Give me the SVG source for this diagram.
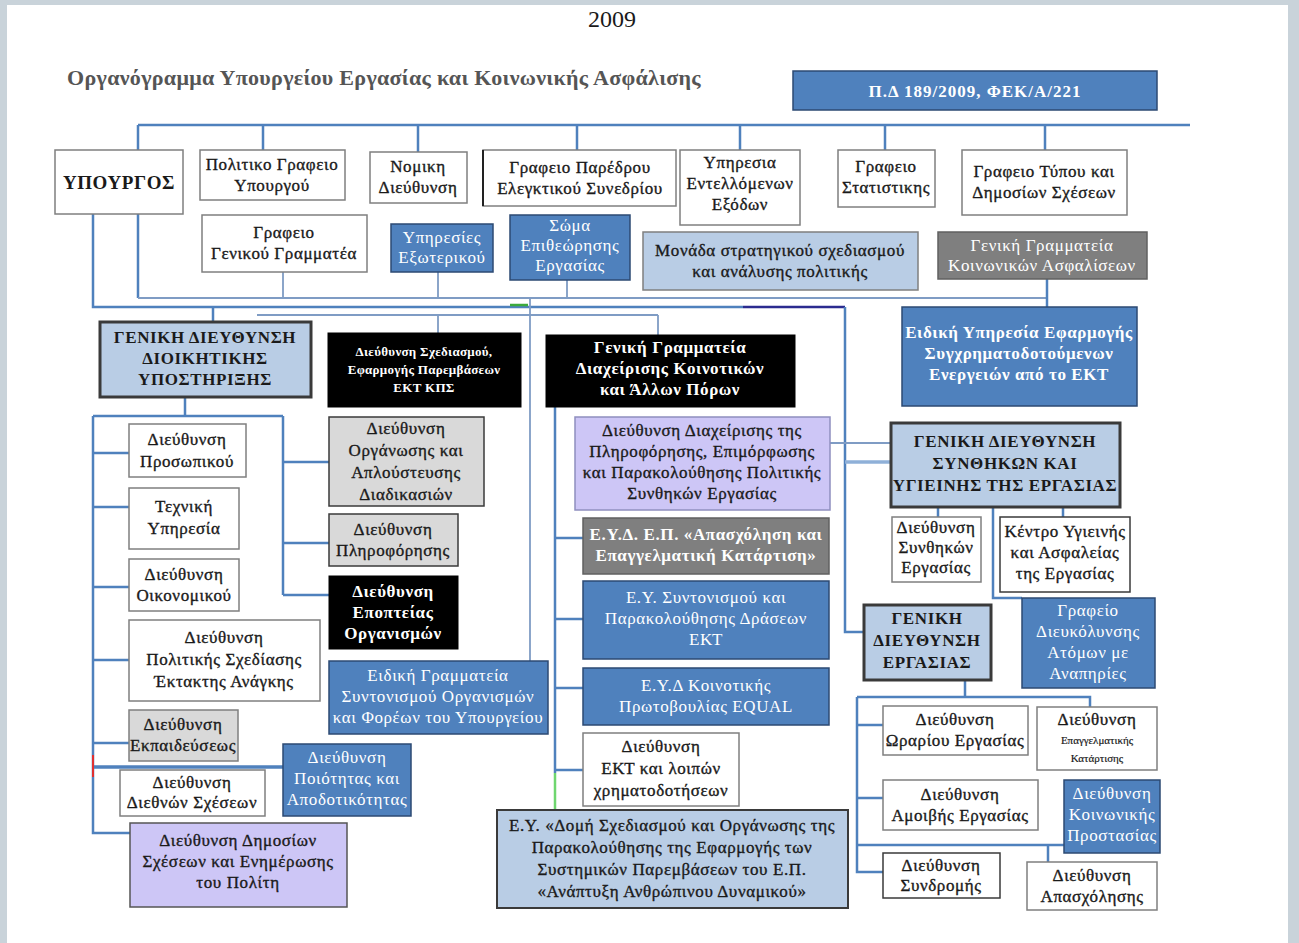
<svg xmlns="http://www.w3.org/2000/svg" width="1299" height="943" viewBox="0 0 1299 943">
<style>
text{font-family:"Liberation Serif","DejaVu Serif",serif;font-size:17px;letter-spacing:0.6px;fill:#1a1a1a;stroke:#1a1a1a;stroke-width:0.35px;text-anchor:middle}
.w{fill:#fff;stroke:#7f7f7f;stroke-width:1.5}
.b{fill:#4f81bd;stroke:#2c4a73;stroke-width:1.5}
.lb{fill:#b9cde5;stroke:#7f7f7f;stroke-width:1.5}
.gd{fill:#b9cde5;stroke:#3a3a3a;stroke-width:3}
.g{fill:#7f7f7f;stroke:#606060;stroke-width:1.5}
.k{fill:#000;stroke:#000;stroke-width:1}
.lg{fill:#d9d9d9;stroke:#3a3a3a;stroke-width:1.5}
.lv{fill:#cdc6f6;stroke:#8f8fbf;stroke-width:1.5}
text.wt{fill:#fff;stroke:none;font-weight:bold}
text.wn{fill:#fff;stroke:none}
.bd{font-weight:bold;stroke:none}
.c{fill:none;stroke:#4f81bd;stroke-width:2.5}
.ct{fill:none;stroke:#7f9cc4;stroke-width:1.8}
</style>
<rect x="0" y="0" width="1299" height="943" fill="#fff"/>
<rect x="0" y="0" width="1299" height="5" fill="#c9d3da"/>
<rect x="0" y="0" width="7" height="943" fill="#c9d3da"/>
<rect x="1288" y="0" width="11" height="943" fill="#c9d3da"/>
<text x="612" y="27" style="font-size:24px;stroke:none;letter-spacing:0">2009</text>
<text x="384" y="85" class="bd" style="font-size:22px;fill:#555;letter-spacing:0.3px">Οργανόγραμμα Υπουργείου Εργασίας και Κοινωνικής Ασφάλισης</text>

<g id="connectors">
<path class="c" d="M138,125 H1190 M138,125 V150 M263,125 V150 M418,125 V152 M577,125 V150 M740,125 V150 M885,125 V150 M1045,125 V150"/>
<path class="c" d="M93,214 V307 H743 M138,214 V298"/>
<path class="ct" d="M138,298 H1047 M283,272 V298 M438,272 V298 M567,280 V298"/>
<path class="c" d="M1047,279 V307"/>
<path fill="none" stroke="#2b2b8f" stroke-width="2.5" d="M743,307 H845"/>
<path class="c" d="M845,307 V632 H864"/>
<path fill="none" stroke="#3caa3c" stroke-width="2.5" d="M510,305 H528"/>
<path class="c" d="M213,307 V322"/>
<path class="ct" d="M257,315 H658 M438,315 V333 M658,315 V335"/>
<path class="c" d="M185,397 V416 M93,416 H283 M93,416 V833 H130 M93,453 H129 M93,507 H129 M93,587 H129 M93,660 H129 M93,743 H129 M283,416 V595 M283,462 H329 M283,543 H329 M283,595 H329"/>
<path fill="none" stroke="#4f81bd" stroke-width="3.5" d="M93,767 H283"/>
<path fill="none" stroke="#e03030" stroke-width="2" d="M93,755 V777"/>
<path class="ct" d="M530,298 V661"/>
<path class="c" d="M555,407 V773 M555,538 H583 M555,619 H583 M555,688 H583 M555,770 H583"/>
<path fill="none" stroke="#6fd66f" stroke-width="2.5" d="M555,773 V810"/>
<path class="ct" d="M830,443 H891"/>
<path fill="none" stroke="#8fb0d8" stroke-width="3.5" d="M845,462 H891"/>
<path class="c" d="M938,507 V517 M1063,507 V517 M993,507 V598 H1022"/>
<path class="c" d="M965,680 V697 M857,697 H1090 V707 M857,697 V872 H883 M857,725 H883 M857,798 H883 M857,845 H1064 M1048,845 V862"/>
</g>

<g id="pd"><rect class="b" x="793" y="71" width="364" height="39"/><text class="wt" x="975" y="97" style="font-size:17px;letter-spacing:1px">Π.Δ 189/2009, ΦΕΚ/Α/221</text></g>

<g id="ypourgos"><rect class="w" x="55" y="150" width="128" height="64"/><text class="bd" x="119" y="189" style="font-size:19px">ΥΠΟΥΡΓΟΣ</text></g>
<g id="politiko"><rect class="w" x="200" y="150" width="145" height="50"/><text x="272" y="170"><tspan x="272">Πολιτικο Γραφειο</tspan><tspan x="272" dy="21">Υπουργού</tspan></text></g>
<g id="nomiki"><rect class="w" x="370" y="152" width="97" height="51"/><text x="418" y="172"><tspan x="418">Νομικη</tspan><tspan x="418" dy="21">Διεύθυνση</tspan></text></g>
<g id="paredros"><rect class="w" x="483" y="150" width="193" height="56"/><path d="M483,150 V206" stroke="#222" stroke-width="2"/><text x="580" y="173"><tspan x="580">Γραφειο Παρέδρου</tspan><tspan x="580" dy="21">Ελεγκτικού Συνεδρίου</tspan></text></g>
<g id="entellomenon"><rect class="w" x="680" y="150" width="120" height="75"/><text x="740" y="168"><tspan x="740">Υπηρεσια</tspan><tspan x="740" dy="21">Εντελλόμενων</tspan><tspan x="740" dy="21">Εξόδων</tspan></text></g>
<g id="statistikis"><rect class="w" x="838" y="150" width="97" height="57"/><text x="886" y="172"><tspan x="886">Γραφειο</tspan><tspan x="886" dy="21">Στατιστικης</tspan></text></g>
<g id="typou"><rect class="w" x="962" y="150" width="165" height="65"/><text x="1044" y="177"><tspan x="1044">Γραφειο Τύπου και</tspan><tspan x="1044" dy="21">Δημοσίων Σχέσεων</tspan></text></g>

<g id="gen-grammatea"><rect class="w" x="202" y="215" width="165" height="57"/><text x="284" y="238"><tspan x="284">Γραφειο</tspan><tspan x="284" dy="21">Γενικού Γραμματέα</tspan></text></g>
<g id="exoterikou"><rect class="b" x="391" y="224" width="102" height="48"/><text class="wn" x="442" y="243"><tspan x="442">Υπηρεσίες</tspan><tspan x="442" dy="20">Εξωτερικού</tspan></text></g>
<g id="soma"><rect class="b" x="510" y="215" width="120" height="65"/><text class="wn" x="570" y="231"><tspan x="570">Σώμα</tspan><tspan x="570" dy="20">Επιθεώρησης</tspan><tspan x="570" dy="20">Εργασίας</tspan></text></g>
<g id="monada"><rect class="lb" x="643" y="232" width="275" height="58"/><text x="780" y="256"><tspan x="780">Μονάδα στρατηγικού σχεδιασμού</tspan><tspan x="780" dy="21">και ανάλυσης πολιτικής</tspan></text></g>
<g id="gg-koin-asf"><rect class="g" x="938" y="232" width="209" height="47"/><text class="wn" x="1042" y="251"><tspan x="1042">Γενική Γραμματεία</tspan><tspan x="1042" dy="20">Κοινωνικών Ασφαλίσεων</tspan></text></g>

<g id="gd-dioikitikis"><rect class="gd" x="100" y="322" width="211" height="75"/><text class="bd" x="205" y="343"><tspan x="205">ΓΕΝΙΚΗ ΔΙΕΥΘΥΝΣΗ</tspan><tspan x="205" dy="21">ΔΙΟΙΚΗΤΙΚΗΣ</tspan><tspan x="205" dy="21">ΥΠΟΣΤΗΡΙΞΗΣ</tspan></text></g>
<g id="d-sxediasmou"><rect class="k" x="328" y="333" width="193" height="74"/><text class="wt" x="424" y="356" style="font-size:13px;letter-spacing:0.3px"><tspan x="424">Διεύθυνση Σχεδιασμού,</tspan><tspan x="424" dy="18">Εφαρμογής Παρεμβάσεων</tspan><tspan x="424" dy="18">ΕΚΤ ΚΠΣ</tspan></text></g>
<g id="gg-diaxeirisis"><rect class="k" x="546" y="335" width="249" height="72"/><text class="wt" x="670" y="353"><tspan x="670">Γενική Γραμματεία</tspan><tspan x="670" dy="21">Διαχείρισης Κοινοτικών</tspan><tspan x="670" dy="21">και Άλλων Πόρων</tspan></text></g>
<g id="eidiki-ypiresia"><rect class="b" x="902" y="307" width="235" height="99"/><text class="wt" x="1019" y="338"><tspan x="1019">Ειδική Υπηρεσία Εφαρμογής</tspan><tspan x="1019" dy="21">Συγχρηματοδοτούμενων</tspan><tspan x="1019" dy="21">Ενεργειών από το ΕΚΤ</tspan></text></g>

<g id="d-prosopikou"><rect class="w" x="129" y="424" width="117" height="53"/><text x="187" y="445"><tspan x="187">Διεύθυνση</tspan><tspan x="187" dy="22">Προσωπικού</tspan></text></g>
<g id="texniki"><rect class="w" x="129" y="488" width="110" height="61"/><text x="184" y="512"><tspan x="184">Τεχνική</tspan><tspan x="184" dy="22">Υπηρεσία</tspan></text></g>
<g id="d-oikonomikou"><rect class="w" x="129" y="559" width="110" height="52"/><text x="184" y="580"><tspan x="184">Διεύθυνση</tspan><tspan x="184" dy="21">Οικονομικού</tspan></text></g>
<g id="d-ektaktis"><rect class="w" x="129" y="620" width="191" height="81"/><text x="224" y="643"><tspan x="224">Διεύθυνση</tspan><tspan x="224" dy="22">Πολιτικής Σχεδίασης</tspan><tspan x="224" dy="22">Έκτακτης Ανάγκης</tspan></text></g>
<g id="d-ekpaideuseos"><rect class="lg" x="129" y="710" width="109" height="51" style="stroke:#7f7f7f"/><text x="183" y="730"><tspan x="183">Διεύθυνση</tspan><tspan x="183" dy="21">Εκπαιδεύσεως</tspan></text></g>
<g id="d-diethnon"><rect class="w" x="120" y="770" width="145" height="46"/><text x="192" y="788"><tspan x="192">Διεύθυνση</tspan><tspan x="192" dy="20">Διεθνών Σχέσεων</tspan></text></g>
<g id="d-dimosion"><rect class="lv" x="130" y="823" width="217" height="84" style="stroke:#555"/><text x="238" y="846"><tspan x="238">Διεύθυνση Δημοσίων</tspan><tspan x="238" dy="21">Σχέσεων και Ενημέρωσης</tspan><tspan x="238" dy="21">του Πολίτη</tspan></text></g>
<g id="d-poiotitas"><rect class="b" x="283" y="744" width="128" height="72"/><text class="wn" x="347" y="763"><tspan x="347">Διεύθυνση</tspan><tspan x="347" dy="21">Ποιότητας και</tspan><tspan x="347" dy="21">Αποδοτικότητας</tspan></text></g>

<g id="d-organosis"><rect class="lg" x="329" y="417" width="155" height="89"/><text x="406" y="434"><tspan x="406">Διεύθυνση</tspan><tspan x="406" dy="22">Οργάνωσης και</tspan><tspan x="406" dy="22">Απλούστευσης</tspan><tspan x="406" dy="22">Διαδικασιών</tspan></text></g>
<g id="d-pliroforisis"><rect class="lg" x="329" y="514" width="129" height="52"/><text x="393" y="535"><tspan x="393">Διεύθυνση</tspan><tspan x="393" dy="21">Πληροφόρησης</tspan></text></g>
<g id="d-epopteias"><rect class="k" x="329" y="576" width="129" height="73"/><text class="wt" x="393" y="597"><tspan x="393">Διεύθυνση</tspan><tspan x="393" dy="21">Εποπτείας</tspan><tspan x="393" dy="21">Οργανισμών</tspan></text></g>
<g id="eg-syntonismou"><rect class="b" x="329" y="661" width="219" height="73"/><text class="wn" x="438" y="681"><tspan x="438">Ειδική Γραμματεία</tspan><tspan x="438" dy="21">Συντονισμού Οργανισμών</tspan><tspan x="438" dy="21">και Φορέων του Υπουργείου</tspan></text></g>

<g id="d-diaxeirisis-pliroforisis"><rect class="lv" x="575" y="417" width="255" height="93"/><text x="702" y="436"><tspan x="702">Διεύθυνση Διαχείρισης  της</tspan><tspan x="702" dy="21">Πληροφόρησης, Επιμόρφωσης</tspan><tspan x="702" dy="21">και Παρακολούθησης Πολιτικής</tspan><tspan x="702" dy="21">Συνθηκών Εργασίας</tspan></text></g>
<g id="eyd-ep"><rect class="g" x="583" y="518" width="246" height="56"/><text class="wt" x="706" y="540"><tspan x="706">Ε.Υ.Δ. Ε.Π. «Απασχόληση και</tspan><tspan x="706" dy="21">Επαγγελματική Κατάρτιση»</tspan></text></g>
<g id="ey-syntonismou"><rect class="b" x="583" y="581" width="246" height="78"/><text class="wn" x="706" y="603"><tspan x="706">Ε.Υ. Συντονισμού και</tspan><tspan x="706" dy="21">Παρακολούθησης Δράσεων</tspan><tspan x="706" dy="21">ΕΚΤ</tspan></text></g>
<g id="eyd-equal"><rect class="b" x="583" y="668" width="246" height="57"/><text class="wn" x="706" y="691"><tspan x="706">Ε.Υ.Δ Κοινοτικής</tspan><tspan x="706" dy="21">Πρωτοβουλίας EQUAL</tspan></text></g>
<g id="d-ekt"><rect class="w" x="583" y="733" width="156" height="73"/><text x="661" y="752"><tspan x="661">Διεύθυνση</tspan><tspan x="661" dy="22">ΕΚΤ και λοιπών</tspan><tspan x="661" dy="22">χρηματοδοτήσεων</tspan></text></g>
<g id="ey-domi"><rect class="lb" x="497" y="810" width="351" height="98" style="stroke:#3a3a3a;stroke-width:2"/><text x="672" y="831"><tspan x="672">Ε.Υ. «Δομή Σχεδιασμού και Οργάνωσης της</tspan><tspan x="672" dy="22">Παρακολούθησης της Εφαρμογής των</tspan><tspan x="672" dy="22">Συστημικών Παρεμβάσεων του Ε.Π.</tspan><tspan x="672" dy="22">«Ανάπτυξη Ανθρώπινου Δυναμικού»</tspan></text></g>

<g id="gd-synthikon"><rect class="gd" x="891" y="423" width="229" height="84"/><text class="bd" x="1005" y="447"><tspan x="1005">ΓΕΝΙΚΗ ΔΙΕΥΘΥΝΣΗ</tspan><tspan x="1005" dy="22">ΣΥΝΘΗΚΩΝ ΚΑΙ</tspan><tspan x="1005" dy="22">ΥΓΙΕΙΝΗΣ ΤΗΣ ΕΡΓΑΣΙΑΣ</tspan></text></g>
<g id="d-synthikon"><rect class="w" x="892" y="517" width="89" height="65"/><text x="936" y="533"><tspan x="936">Διεύθυνση</tspan><tspan x="936" dy="20">Συνθηκών</tspan><tspan x="936" dy="20">Εργασίας</tspan></text></g>
<g id="kentro"><rect class="w" x="1000" y="517" width="130" height="75" style="stroke:#3a3a3a"/><text x="1065" y="537"><tspan x="1065">Κέντρο Υγιεινής</tspan><tspan x="1065" dy="21">και Ασφαλείας</tspan><tspan x="1065" dy="21">της Εργασίας</tspan></text></g>
<g id="gd-ergasias"><rect class="gd" x="864" y="605" width="127" height="75"/><text class="bd" x="927" y="624"><tspan x="927">ΓΕΝΙΚΗ</tspan><tspan x="927" dy="22">ΔΙΕΥΘΥΝΣΗ</tspan><tspan x="927" dy="22">ΕΡΓΑΣΙΑΣ</tspan></text></g>
<g id="grafeio-amea"><rect class="b" x="1022" y="598" width="133" height="90"/><text class="wn" x="1088" y="616"><tspan x="1088">Γραφείο</tspan><tspan x="1088" dy="21">Διευκόλυνσης</tspan><tspan x="1088" dy="21">Ατόμων με</tspan><tspan x="1088" dy="21">Αναπηρίες</tspan></text></g>
<g id="d-orariou"><rect class="w" x="883" y="706" width="145" height="49"/><text x="955" y="725"><tspan x="955">Διεύθυνση</tspan><tspan x="955" dy="21">Ωραρίου Εργασίας</tspan></text></g>
<g id="d-epaggelmatikis"><rect class="w" x="1037" y="707" width="120" height="63"/><text x="1097" y="725"><tspan x="1097">Διεύθυνση</tspan><tspan x="1097" dy="19" style="font-size:11px;letter-spacing:0;stroke-width:0.2px">Επαγγελματικής</tspan><tspan x="1097" dy="18" style="font-size:11px;letter-spacing:0;stroke-width:0.2px">Κατάρτισης</tspan></text></g>
<g id="d-amoivis"><rect class="w" x="883" y="780" width="155" height="50"/><text x="960" y="800"><tspan x="960">Διεύθυνση</tspan><tspan x="960" dy="21">Αμοιβής Εργασίας</tspan></text></g>
<g id="d-koinonikis"><rect class="b" x="1064" y="780" width="96" height="73"/><text class="wn" x="1112" y="799"><tspan x="1112">Διεύθυνση</tspan><tspan x="1112" dy="21">Κοινωνικής</tspan><tspan x="1112" dy="21">Προστασίας</tspan></text></g>
<g id="d-syndromis"><rect class="w" x="883" y="853" width="117" height="45" style="stroke:#3a3a3a"/><text x="941" y="871"><tspan x="941">Διεύθυνση</tspan><tspan x="941" dy="20">Συνδρομής</tspan></text></g>
<g id="d-apasxolisis"><rect class="w" x="1027" y="862" width="130" height="48"/><text x="1092" y="881"><tspan x="1092">Διεύθυνση</tspan><tspan x="1092" dy="21">Απασχόλησης</tspan></text></g>
</svg>
